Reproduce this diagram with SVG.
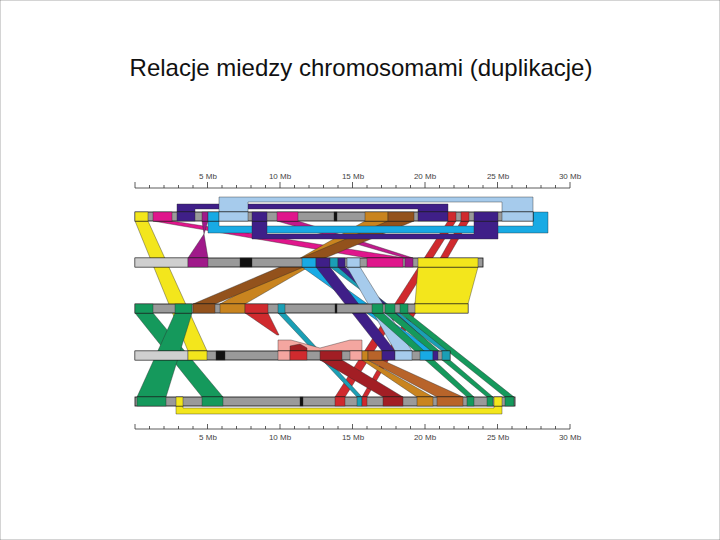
<svg xmlns="http://www.w3.org/2000/svg" width="720" height="540" viewBox="0 0 720 540">
<style>
text{font-family:"Liberation Sans",Arial,sans-serif}
.title{font-size:24px;fill:#111}
.lab{font-size:8px;fill:#444;text-anchor:middle}
.ax{stroke:#333;stroke-width:0.8;fill:none}
path,polygon,rect{stroke:#2a2a2a;stroke-width:0.4}
.bar{fill:#9a9a9a;stroke:#111;stroke-width:0.8}
.gy{fill:#9a9a9a}.lg{fill:#cfcfcf}.bk{fill:#111}
.ye{fill:#f3e61c}.gr{fill:#15995c}.mg{fill:#e0168c}.mg2{fill:#c01a8c}.dm{fill:#a0198a}
.pu{fill:#3f1f88}.lb{fill:#a6cbec}.cy{fill:#18aae4}.te{fill:#1a9fb5}
.or{fill:#c9841f}.br{fill:#93521c}.ob{fill:#b8642a}.rd{fill:#d02a2e}.dr{fill:#a21e24}.sa{fill:#f4a6a0}
</style>
<rect width="720" height="540" fill="#fff" stroke="none"/>
<text class="title" x="361" y="76" text-anchor="middle">Relacje miedzy chromosomami (duplikacje)</text>

<g id="axis-top">
<line class="ax" x1="135" y1="188" x2="570" y2="188"/>
<path class="ax" d="M135,182V188M149.5,185V188M164,185V188M178.5,185V188M193,185V188M207.5,182V188M222,185V188M236.5,185V188M251,185V188M265.5,185V188M280,182V188M294.5,185V188M309,185V188M323.5,185V188M338,185V188M352.5,182V188M367,185V188M381.5,185V188M396,185V188M410.5,185V188M425,182V188M439.5,185V188M454,185V188M468.5,185V188M483,185V188M497.5,182V188M512,185V188M526.5,185V188M541,185V188M555.5,185V188M570,182V188"/>
<text class="lab" x="208" y="179">5 Mb</text>
<text class="lab" x="280" y="179">10 Mb</text>
<text class="lab" x="353" y="179">15 Mb</text>
<text class="lab" x="425" y="179">20 Mb</text>
<text class="lab" x="498" y="179">25 Mb</text>
<text class="lab" x="570" y="179">30 Mb</text>
</g>
<g id="axis-bottom">
<line class="ax" x1="135" y1="429" x2="570" y2="429"/>
<path class="ax" d="M135,424V429M149.5,426V429M164,426V429M178.5,426V429M193,426V429M207.5,424V429M222,426V429M236.5,426V429M251,426V429M265.5,426V429M280,424V429M294.5,426V429M309,426V429M323.5,426V429M338,426V429M352.5,424V429M367,426V429M381.5,426V429M396,426V429M410.5,426V429M425,424V429M439.5,426V429M454,426V429M468.5,426V429M483,426V429M497.5,424V429M512,426V429M526.5,426V429M541,426V429M555.5,426V429M570,424V429"/>
<text class="lab" x="208" y="440">5 Mb</text>
<text class="lab" x="280" y="440">10 Mb</text>
<text class="lab" x="353" y="440">15 Mb</text>
<text class="lab" x="425" y="440">20 Mb</text>
<text class="lab" x="498" y="440">25 Mb</text>
<text class="lab" x="570" y="440">30 Mb</text>
</g>

<g id="connectors">
<polygon class="ye" points="135,221 148,221 207,351 188,351"/>
<polygon class="gr" points="135,313 153,313 223,397 202,397"/>
<polygon class="gr" points="175,313 192,313 166,397 137,397"/>
<polygon class="mg" points="153,221 172,221 405,258 367,258"/>
<polygon class="mg2" points="277,221 298,221 413,258 405,258"/>
<polygon class="dm" points="202,221 208,221 204,234"/>
<polygon class="dm" points="204,234 208,258 188,258"/>
<polygon class="or" points="365,221 388,221 245,304 220,304"/>
<polygon class="br" points="388,221 414,221 215,304 193,304"/>
<polygon class="rd" points="448,221 456,221 345,397 335,397"/>
<polygon class="rd" points="461,221 469,221 367,397 362,397"/>
<polygon class="ye" points="418,267 478,267 468,304 415,304"/>
<polygon class="cy" points="302,267 316,267 433,351 420,351"/>
<polygon class="pu" points="316,267 330,267 395,351 382,351"/>
<polygon class="te" points="330,267 338,267 450,351 442,351"/>
<polygon class="pu" points="338,267 345,267 438,351 433,351"/>
<polygon class="lb" points="347,267 360,267 412,351 395,351"/>
<polygon class="gr" points="372,313 383,313 474,397 467,397"/>
<polygon class="gr" points="385,313 395,313 493,397 487,397"/>
<polygon class="gr" points="400,313 408,313 514,397 505,397"/>
<polygon class="te" points="278,313 285,313 362,397 357,397"/>
<polygon class="rd" points="245,313 268,313 279,335 277,335"/>
<polygon class="dr" points="320,360 342,360 403,397 383,397"/>
<polygon class="or" points="362,360 368,360 433,397 417,397"/>
<polygon class="ob" points="368,360 382,360 463,397 437,397"/>
<path class="sa" d="M278,340H291L320,348L350,340H362V351H278Z"/>
<path class="dr" d="M290,351V346L300,344L307,348V351Z"/>
<path class="cy" d="M208,221H219V226H533V212H548V233H208Z"/>
<path class="pu" d="M252,221H267V234H474V221H498V239H252Z"/>
<path class="pu" d="M177,204H448V212H418V209H195V212H177Z"/>
<path class="lb" d="M219,197H533V212H502V202H248V212H219Z"/>
<path class="ye" d="M176,397H183V408H494V397H502V414H176Z"/>
</g>

<g id="chr1">
<rect class="bar" x="135" y="212" width="398" height="9"/>
<rect class="ye" x="135" y="212" width="13" height="9"/>
<rect class="mg" x="153" y="212" width="19" height="9"/>
<rect class="pu" x="177" y="212" width="18" height="9"/>
<rect class="dm" x="202" y="212" width="6" height="9"/>
<rect class="cy" x="208" y="212" width="11" height="9"/>
<rect class="lb" x="219" y="212" width="29" height="9"/>
<rect class="pu" x="252" y="212" width="15" height="9"/>
<rect class="mg" x="277" y="212" width="21" height="9"/>
<rect class="bk" x="334" y="212" width="3" height="9"/>
<rect class="or" x="365" y="212" width="23" height="9"/>
<rect class="br" x="388" y="212" width="26" height="9"/>
<rect class="pu" x="418" y="212" width="30" height="9"/>
<rect class="rd" x="448" y="212" width="8" height="9"/>
<rect class="rd" x="461" y="212" width="8" height="9"/>
<rect class="pu" x="474" y="212" width="24" height="9"/>
<rect class="lb" x="502" y="212" width="31" height="9"/>
</g>

<g id="chr2">
<rect class="bar" x="135" y="258" width="348" height="9"/>
<rect class="lg" x="135" y="258" width="53" height="9"/>
<rect class="dm" x="188" y="258" width="20" height="9"/>
<rect class="bk" x="240" y="258" width="12" height="9"/>
<rect class="cy" x="302" y="258" width="14" height="9"/>
<rect class="pu" x="316" y="258" width="14" height="9"/>
<rect class="te" x="330" y="258" width="8" height="9"/>
<rect class="pu" x="338" y="258" width="7" height="9"/>
<rect class="lb" x="347" y="258" width="13" height="9"/>
<rect class="mg" x="367" y="258" width="36" height="9"/>
<rect class="dm" x="405" y="258" width="8" height="9"/>
<rect class="ye" x="418" y="258" width="60" height="9"/>
</g>

<g id="chr3">
<rect class="bar" x="135" y="304" width="333" height="9"/>
<rect class="gr" x="135" y="304" width="18" height="9"/>
<rect class="gr" x="175" y="304" width="17" height="9"/>
<rect class="br" x="193" y="304" width="22" height="9"/>
<rect class="or" x="220" y="304" width="25" height="9"/>
<rect class="rd" x="245" y="304" width="23" height="9"/>
<rect class="te" x="278" y="304" width="7" height="9"/>
<rect class="bk" x="335" y="304" width="2" height="9"/>
<rect class="gr" x="372" y="304" width="11" height="9"/>
<rect class="gr" x="385" y="304" width="10" height="9"/>
<rect class="gr" x="400" y="304" width="8" height="9"/>
<rect class="ye" x="415" y="304" width="53" height="9"/>
</g>

<g id="chr4">
<rect class="bar" x="135" y="351" width="315" height="9"/>
<rect class="lg" x="135" y="351" width="53" height="9"/>
<rect class="ye" x="188" y="351" width="19" height="9"/>
<rect class="bk" x="216" y="351" width="9" height="9"/>
<rect class="sa" x="278" y="351" width="12" height="9"/>
<rect class="rd" x="290" y="351" width="17" height="9"/>
<rect class="dr" x="320" y="351" width="22" height="9"/>
<rect class="sa" x="350" y="351" width="12" height="9"/>
<rect class="or" x="362" y="351" width="6" height="9"/>
<rect class="ob" x="368" y="351" width="14" height="9"/>
<rect class="pu" x="382" y="351" width="13" height="9"/>
<rect class="lb" x="395" y="351" width="17" height="9"/>
<rect class="cy" x="420" y="351" width="13" height="9"/>
<rect class="pu" x="433" y="351" width="5" height="9"/>
<rect class="te" x="442" y="351" width="8" height="9"/>
</g>

<g id="chr5">
<rect class="bar" x="135" y="397" width="380" height="9"/>
<rect class="gr" x="137" y="397" width="29" height="9"/>
<rect class="ye" x="176" y="397" width="7" height="9"/>
<rect class="gr" x="202" y="397" width="21" height="9"/>
<rect class="bk" x="300" y="397" width="3" height="9"/>
<rect class="rd" x="335" y="397" width="10" height="9"/>
<rect class="te" x="357" y="397" width="5" height="9"/>
<rect class="rd" x="362" y="397" width="5" height="9"/>
<rect class="dr" x="383" y="397" width="20" height="9"/>
<rect class="or" x="417" y="397" width="16" height="9"/>
<rect class="ob" x="437" y="397" width="26" height="9"/>
<rect class="gr" x="467" y="397" width="7" height="9"/>
<rect class="gr" x="487" y="397" width="6" height="9"/>
<rect class="ye" x="494" y="397" width="8" height="9"/>
<rect class="gr" x="505" y="397" width="9" height="9"/>
</g>
</svg>
